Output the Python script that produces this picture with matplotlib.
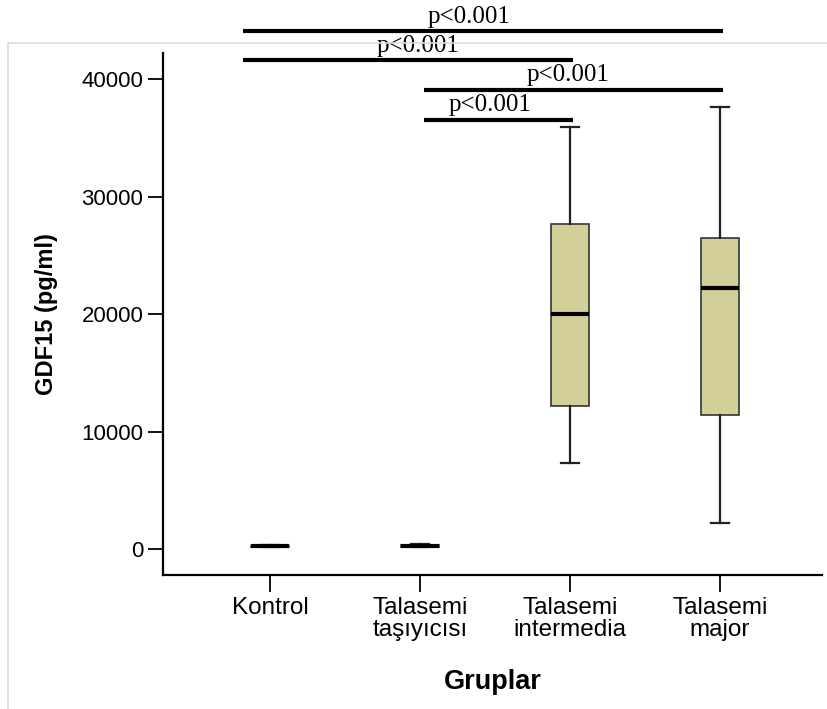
import matplotlib
matplotlib.use("Agg")
import matplotlib.pyplot as plt
from matplotlib.patches import Rectangle

# group labels and box statistics (pg/ml)
groups = ["Kontrol", "Talasemi\ntaşıyıcısı", "Talasemi\nintermedia", "Talasemi\nmajor"]
whisker_low = [150, 150, 7300, 2200]
q1 = [200, 200, 12150, 11450]
median = [250, 260, 19980, 22200]
q3 = [300, 380, 27700, 26450]
whisker_high = [350, 450, 35900, 37600]

# pairwise comparison brackets: (x start, x end, height, label)
cmp_x0 = [0.82, 0.82, 2.03, 2.03]
cmp_x1 = [4.02, 3.02, 4.02, 3.02]
cmp_y = [44100, 41600, 39100, 36550]
cmp_label = ["p<0.001", "p<0.001", "p<0.001", "p<0.001"]
cmp_text_x = [2.33, 1.99, 2.99, 2.47]

fig = plt.figure(figsize=(8.27, 7.09), dpi=100)
ax = fig.add_axes([0.197, 0.189, 0.797, 0.736])

# light frame around the chart area
fig.patches.append(Rectangle((0.01, -0.02), 1.2, 0.959, transform=fig.transFigure,
                             fill=False, edgecolor="#dcdcdc", linewidth=1.2))

stats = []
for i in range(len(groups)):
    stats.append({"whislo": whisker_low[i], "q1": q1[i], "med": median[i],
                  "q3": q3[i], "whishi": whisker_high[i], "fliers": []})

positions = list(range(1, len(groups) + 1))
ax.bxp(stats, positions=positions, widths=0.255, patch_artist=True,
       showfliers=False,
       boxprops=dict(facecolor="#d3cf98", edgecolor="#333333", linewidth=1.2),
       medianprops=dict(color="black", linewidth=3),
       whiskerprops=dict(color="#222222", linewidth=1.6),
       capprops=dict(color="#222222", linewidth=1.6),
       capwidths=0.12)

ax.set_xlim(0.287, 4.68)
ax.set_ylim(-2200, 42200)
ax.set_yticks([0, 10000, 20000, 30000, 40000])
ax.set_xticks(positions)
ax.set_xticklabels(groups, fontsize=17.5, family="Liberation Sans", linespacing=1.0)
for lab in ax.get_yticklabels():
    lab.set_fontsize(16)
    lab.set_family("Liberation Sans")

for side in ["top", "right"]:
    ax.spines[side].set_visible(False)
for side in ["left", "bottom"]:
    ax.spines[side].set_linewidth(1.6)
ax.tick_params(axis="y", length=11, width=1.3, pad=3)
ax.tick_params(axis="x", length=12, width=1.3, pad=4)

ax.set_ylabel("GDF15 (pg/ml)", fontsize=17, fontweight="bold",
              family="Liberation Sans", labelpad=17)
ax.set_xlabel("Gruplar", fontsize=19.5, fontweight="bold",
              family="Liberation Sans", labelpad=20)

# significance lines drawn above the boxes
for i in range(len(cmp_y)):
    ax.plot([cmp_x0[i], cmp_x1[i]], [cmp_y[i], cmp_y[i]], color="black",
            linewidth=3, clip_on=False, solid_capstyle="butt")
    ax.text(cmp_text_x[i], cmp_y[i] + 700, cmp_label[i], ha="center", va="baseline",
            fontsize=18, family="Liberation Serif", clip_on=False)

fig.savefig("out.png", dpi=100)
